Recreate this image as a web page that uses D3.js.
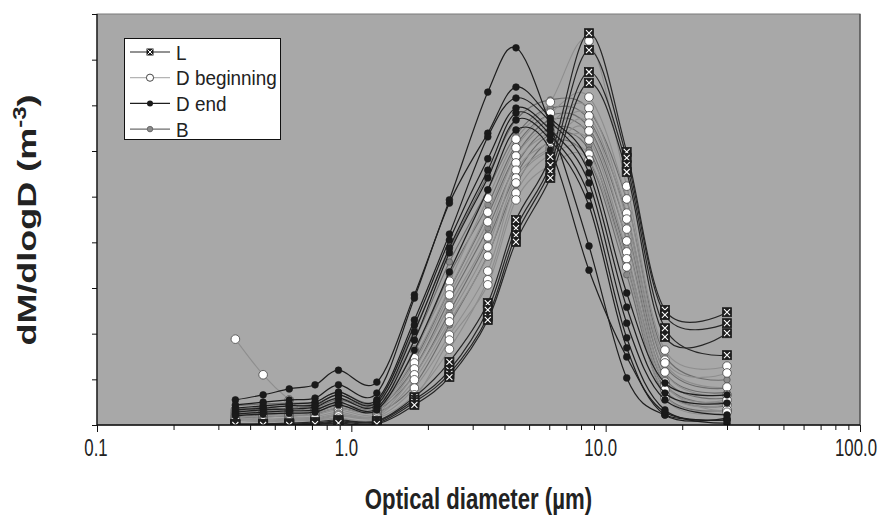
<!DOCTYPE html>
<html>
<head>
<meta charset="utf-8">
<script src="https://cdn.jsdelivr.net/npm/d3@7"></script>
<style>
  html, body { margin: 0; padding: 0; background: #fff; }
  svg { display: block; }
  text { font-family: "Liberation Sans", Arial, sans-serif; fill: #222; }
</style>
</head>
<body>
<svg id="chart" width="878" height="525"></svg>
<script>
// Optical particle counter size bins (µm)
const diameters = [0.35, 0.45, 0.57, 0.72, 0.89, 1.26, 1.77, 2.43, 3.44, 4.44, 6.06, 8.6, 12.1, 17.1, 30.0];

// Mass size distributions, one array per sample
const seriesL = [
  [0.2, 0.2, 0.4, 0.7, 1.1, 0.9, 6.1, 13.8, 26.7, 44.9, 58.7, 85.8, 59.8, 25.2, 24.7],
  [0.2, 0.2, 0.2, 0.4, 0.9, 0.7, 5.5, 12.0, 25.2, 43.1, 56.9, 82.1, 58.5, 24.1, 22.3],
  [0.0, 0.2, 0.2, 0.2, 0.7, 0.4, 5.0, 11.2, 23.7, 41.6, 55.6, 77.3, 56.9, 21.2, 15.3],
  [0.0, 0.0, 0.0, 0.2, 0.4, 0.2, 4.4, 10.5, 23.0, 40.1, 54.1, 74.9, 55.4, 19.3, 20.1]
];
const seriesDBeginning = [
  [3.3, 3.1, 3.3, 3.5, 4.8, 3.9, 16.4, 31.5, 49.7, 62.6, 70.7, 84.1, 52.3, 16.4, 12.9],
  [2.8, 2.6, 2.8, 3.1, 4.2, 3.5, 14.7, 29.8, 46.6, 60.7, 68.3, 71.8, 49.5, 14.2, 11.4],
  [2.4, 2.2, 2.4, 2.6, 3.7, 3.1, 13.6, 28.5, 44.5, 58.9, 66.1, 69.4, 46.4, 13.6, 8.3],
  [2.0, 1.8, 2.0, 2.2, 3.3, 2.6, 12.3, 26.1, 41.2, 57.4, 64.2, 67.7, 45.1, 11.6, 6.6],
  [1.8, 1.3, 1.5, 1.8, 2.8, 2.2, 11.0, 23.7, 39.0, 55.8, 62.0, 66.1, 42.9, 9.4, 3.1],
  [1.5, 1.1, 1.3, 1.5, 2.4, 2.0, 9.9, 22.6, 37.0, 54.1, 60.7, 64.4, 40.3, 8.8, 5.5],
  [1.3, 0.9, 1.1, 1.3, 2.2, 1.8, 8.1, 19.7, 33.7, 53.0, 60.2, 62.4, 37.9, 7.7, 4.4],
  [1.1, 0.7, 0.9, 1.1, 2.0, 1.5, 6.6, 16.6, 31.8, 50.8, 59.1, 59.3, 36.4, 6.6, 3.3],
  [18.8, 11.0, 5.5, 1.5, 1.5, 1.1, 5.9, 18.6, 30.7, 49.3, 56.9, 58.0, 34.6, 5.9, 2.8]
];
const seriesDEnd = [
  [5.5, 6.6, 7.9, 8.8, 12.0, 9.4, 28.5, 49.3, 72.9, 82.6, 65.7, 39.2, 10.3, 2.2, 1.1],
  [4.4, 5.0, 5.5, 5.9, 8.8, 7.0, 27.8, 48.6, 63.9, 74.0, 67.2, 57.4, 28.9, 9.2, 6.6],
  [3.7, 4.2, 4.6, 5.0, 7.2, 5.5, 23.0, 41.8, 63.1, 71.6, 66.4, 55.2, 25.8, 7.0, 4.8],
  [3.3, 3.7, 4.2, 4.4, 6.6, 5.0, 21.9, 40.5, 58.3, 69.4, 64.6, 53.0, 22.3, 5.5, 2.2],
  [2.8, 3.3, 3.5, 3.9, 5.9, 4.4, 20.4, 38.8, 55.8, 68.3, 63.5, 50.2, 19.1, 3.3, 0.4],
  [2.4, 2.8, 3.1, 3.3, 5.0, 3.7, 18.6, 37.7, 54.1, 66.8, 62.4, 48.0, 16.9, 2.2, 1.5],
  [2.0, 2.4, 2.6, 2.8, 4.4, 3.3, 16.4, 33.5, 51.5, 64.6, 60.2, 33.9, 14.9, 2.8, 1.1]
];
const seriesB = [
  [4.2, 4.6, 4.8, 5.0, 7.2, 5.5, 20.8, 38.3, 54.8, 66.8, 71.2, 69.0, 49.3, 15.3, 9.9],
  [3.5, 3.9, 4.2, 4.6, 6.6, 5.0, 18.6, 35.7, 51.5, 63.5, 69.4, 66.8, 46.0, 13.1, 8.1],
  [3.1, 3.5, 3.7, 4.2, 5.9, 4.6, 16.0, 32.9, 48.2, 61.3, 67.9, 65.0, 43.1, 11.6, 7.2],
  [2.6, 3.1, 3.3, 3.7, 5.5, 4.2, 14.2, 29.6, 46.0, 59.1, 66.8, 63.5, 40.5, 10.3, 5.9],
  [2.2, 2.6, 2.8, 3.3, 4.8, 3.7, 12.5, 27.4, 43.1, 56.9, 65.0, 61.3, 37.2, 9.0, 5.0],
  [1.8, 2.2, 2.4, 2.8, 4.2, 3.3, 11.0, 24.7, 40.5, 54.8, 63.5, 60.2, 35.0, 7.7, 4.2],
  [1.5, 1.8, 2.0, 2.4, 3.7, 2.8, 8.8, 21.9, 37.2, 52.6, 62.0, 58.0, 32.9, 6.6, 3.3]
];

const xTickLabels = ["0.1", "1.0", "10.0", "100.0"];
const legendLabels = ["L", "D beginning", "D end", "B"];

const margin = { left: 97, right: 860, top: 14, bottom: 425 };
const svg = d3.select("#chart");

const x = d3.scaleLog().domain([0.1, 100]).range([margin.left, margin.right]);
const y = d3.scaleLinear().domain([0, 90]).range([margin.bottom, margin.top]);

// plot area
svg.append("rect")
  .attr("x", margin.left).attr("y", margin.top)
  .attr("width", margin.right - margin.left).attr("height", margin.bottom - margin.top)
  .attr("fill", "#a8a8a8").attr("stroke", "#7a7a7a").attr("stroke-width", 1);
svg.append("line")
  .attr("x1", margin.right).attr("x2", margin.right)
  .attr("y1", margin.top).attr("y2", margin.bottom)
  .attr("stroke", "#4a4a4a").attr("stroke-width", 1.2);

svg.append("defs").append("clipPath").attr("id", "plotClip")
  .append("rect")
  .attr("x", margin.left).attr("y", margin.top)
  .attr("width", margin.right - margin.left).attr("height", margin.bottom - margin.top);

const styles = {
  L:  { line: "#262626", width: 1.2 },
  DB: { line: "#8e8e8e", width: 1.1 },
  DE: { line: "#1e1e1e", width: 1.2 },
  B:  { line: "#6c6c6c", width: 1.1 }
};

const lineGen = d3.line()
  .x((d, i) => x(diameters[i]))
  .y(d => y(d))
  .curve(d3.curveCardinal.tension(0));

const plot = svg.append("g").attr("clip-path", "url(#plotClip)");

function drawMarker(g, kind, cx, cy) {
  if (kind === "L") {
    const s = 4.5;
    g.append("rect").attr("x", cx - s).attr("y", cy - s).attr("width", 2 * s).attr("height", 2 * s)
      .attr("fill", "#1e1e1e").attr("stroke", "#1e1e1e").attr("stroke-width", 0.8);
    g.append("path")
      .attr("d", `M${cx - s + 1.5},${cy - s + 1.5}L${cx + s - 1.5},${cy + s - 1.5}M${cx + s - 1.5},${cy - s + 1.5}L${cx - s + 1.5},${cy + s - 1.5}`)
      .attr("stroke", "#fff").attr("stroke-width", 1.1);
  } else if (kind === "DB") {
    g.append("circle").attr("cx", cx).attr("cy", cy).attr("r", 4.3)
      .attr("fill", "#fff").attr("stroke", "#444").attr("stroke-width", 0.8);
  } else if (kind === "DE") {
    g.append("circle").attr("cx", cx).attr("cy", cy).attr("r", 3.4)
      .attr("fill", "#1a1a1a").attr("stroke", "#1a1a1a").attr("stroke-width", 0.6);
  } else {
    g.append("circle").attr("cx", cx).attr("cy", cy).attr("r", 3.2)
      .attr("fill", "#8a8a8a").attr("stroke", "#555").attr("stroke-width", 0.7);
  }
}

function drawGroup(kind, data) {
  const g = plot.append("g");
  data.forEach(vals => {
    g.append("path").attr("d", lineGen(vals))
      .attr("fill", "none").attr("stroke", styles[kind].line)
      .attr("stroke-width", styles[kind].width);
  });
  data.forEach(vals => {
    vals.forEach((v, i) => drawMarker(g, kind, x(diameters[i]), y(v)));
  });
}

drawGroup("B", seriesB);
drawGroup("DB", seriesDBeginning);
drawGroup("DE", seriesDEnd);
drawGroup("L", seriesL);

// axes
const majors = [0.1, 1, 10, 100];
const minors = [];
[0.1, 1, 10].forEach(b => { for (let k = 2; k <= 9; k++) minors.push(b * k); });

const xAxisMinor = d3.axisBottom(x).tickValues(minors).tickSize(5).tickFormat("");
const xAxisMajor = d3.axisBottom(x).tickValues(majors).tickSize(7).tickFormat("");
svg.append("g").attr("transform", `translate(0,${margin.bottom})`).call(xAxisMinor)
  .call(g => g.select(".domain").remove());
svg.append("g").attr("transform", `translate(0,${margin.bottom})`).call(xAxisMajor)
  .call(g => g.select(".domain").remove());
svg.selectAll(".tick line").attr("stroke", "#111").attr("stroke-width", 1);

const yAxis = d3.axisLeft(y).tickValues(d3.range(0, 91, 10)).tickSize(5).tickFormat("");
svg.append("g").attr("transform", `translate(${margin.left},0)`).call(yAxis)
  .call(g => g.select(".domain").remove())
  .call(g => g.selectAll("line").attr("stroke", "#111"));

svg.append("line").attr("x1", margin.left).attr("x2", margin.right)
  .attr("y1", margin.bottom).attr("y2", margin.bottom).attr("stroke", "#111").attr("stroke-width", 1.3);
svg.append("line").attr("x1", margin.left).attr("x2", margin.left)
  .attr("y1", margin.top).attr("y2", margin.bottom).attr("stroke", "#111").attr("stroke-width", 1.3);

// tick labels
const labelShift = [-1, -5, -5, -4];
majors.forEach((m, i) => {
  svg.append("text")
    .attr("transform", `translate(${x(m) + labelShift[i]},456) scale(0.7,1)`)
    .attr("text-anchor", "middle")
    .attr("font-size", 24)
    .text(xTickLabels[i]);
});

// axis titles
svg.append("text")
  .attr("transform", `translate(${(margin.left + margin.right) / 2},509) scale(0.74,1)`)
  .attr("text-anchor", "middle")
  .attr("font-size", 30).attr("font-weight", "bold")
  .text("Optical diameter (µm)");

const yt = svg.append("text")
  .attr("transform", `translate(36,220) rotate(-90) scale(1,0.74)`)
  .attr("text-anchor", "middle")
  .attr("font-size", 36).attr("font-weight", "bold");
yt.append("tspan").text("dM/dlogD (m");
yt.append("tspan").attr("font-size", 24).attr("dy", -13).text("-3");
yt.append("tspan").attr("dy", 13).text(")");

// legend
const lg = svg.append("g");
lg.append("rect").attr("x", 124.5).attr("y", 38.5).attr("width", 156).attr("height", 101)
  .attr("fill", "#fff").attr("stroke", "#111").attr("stroke-width", 1);
const kinds = ["L", "DB", "DE", "B"];
kinds.forEach((k, i) => {
  const ly = 52 + i * 25.7;
  lg.append("line").attr("x1", 130).attr("x2", 170).attr("y1", ly).attr("y2", ly)
    .attr("stroke", k === "DB" ? "#b4b4b4" : styles[k].line).attr("stroke-width", 1.2);
  const mg = lg.append("g");
  if (k === "L") {
    const s = 3.5;
    mg.append("rect").attr("x", 150 - s).attr("y", ly - s).attr("width", 2 * s).attr("height", 2 * s)
      .attr("fill", "#1e1e1e");
    mg.append("path").attr("d", `M${150 - s + 1},${ly - s + 1}L${150 + s - 1},${ly + s - 1}M${150 + s - 1},${ly - s + 1}L${150 - s + 1},${ly + s - 1}`)
      .attr("stroke", "#fff").attr("stroke-width", 1);
  } else if (k === "DB") {
    mg.append("circle").attr("cx", 150).attr("cy", ly).attr("r", 3.6).attr("fill", "#fff").attr("stroke", "#333").attr("stroke-width", 0.9);
  } else if (k === "DE") {
    mg.append("circle").attr("cx", 150).attr("cy", ly).attr("r", 3).attr("fill", "#1a1a1a");
  } else {
    mg.append("circle").attr("cx", 150).attr("cy", ly).attr("r", 2.8).attr("fill", "#8a8a8a").attr("stroke", "#555").attr("stroke-width", 0.7);
  }
  lg.append("text")
    .attr("transform", `translate(176,${ly + 7.5}) scale(0.9,1)`)
    .attr("font-size", 21)
    .text(legendLabels[i]);
});
</script>
</body>
</html>
